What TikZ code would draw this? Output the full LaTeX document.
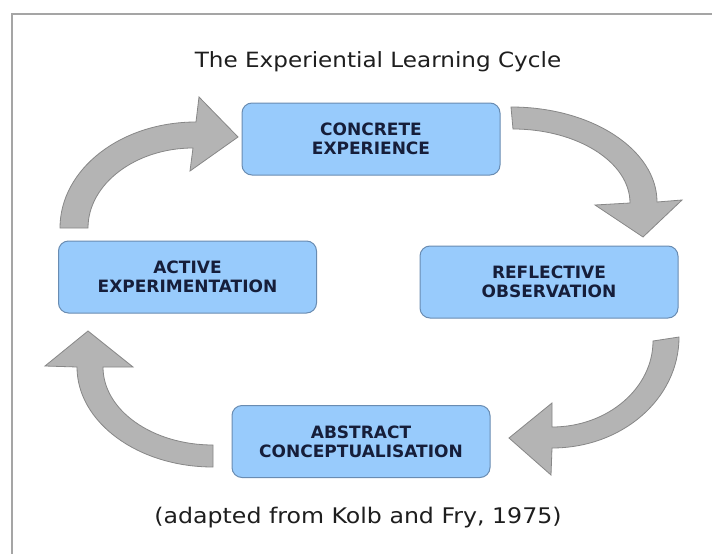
\documentclass[tikz,border=0pt]{standalone}
\usepackage{fontspec}
\setmainfont{DejaVu Sans}
\newfontfamily\wideheading[FakeStretch=1.1]{DejaVu Sans}
\definecolor{boxfill}{RGB}{152,203,252}
\definecolor{boxline}{RGB}{105,140,178}
\definecolor{boxtext}{RGB}{22,30,58}
\definecolor{arrowfill}{RGB}{180,180,180}
\definecolor{arrowline}{RGB}{135,135,135}
\definecolor{framegray}{RGB}{165,165,165}
\definecolor{titletext}{RGB}{30,30,30}
\begin{document}
\begin{tikzpicture}[x=1pt,y=-1pt,
  stagebox/.style={draw=boxline, line width=1pt, fill=boxfill, rounded corners=10pt,
    minimum width=258pt, minimum height=72pt, align=center, text=boxtext,
    font=\fontsize{17}{19}\selectfont\bfseries},
  bigarrow/.style={fill=arrowfill, draw=arrowline, line width=0.8pt, line join=miter},
  heading/.style={text=titletext, font=\wideheading\fontsize{21}{25}\selectfont}]
\useasboundingbox (0,0) rectangle (712,554);
\fill[white] (0,0) rectangle (712,554);
% frame
\draw[framegray, line width=1.6pt] (712,14) -- (12,14) -- (12,554);
% title and caption
\node[heading] (title) at (378,62) {The Experiential Learning Cycle};
\node[heading, font=\wideheading\fontsize{21.5}{25}\selectfont] (caption) at (358,518) {(adapted from Kolb and Fry, 1975)};
% stages
\node[stagebox] (ce) at (371,139) {CONCRETE\\EXPERIENCE};
\node[stagebox] (ro) at (549,282) {REFLECTIVE\\OBSERVATION};
\node[stagebox] (ac) at (361,441.5) {ABSTRACT\\CONCEPTUALISATION};
\node[stagebox] (ae) at (187.5,277) {ACTIVE\\EXPERIMENTATION};
% arrow AE -> CE (top left)
\draw[bigarrow] (60,228) .. controls (60,169.5) and (120.4,122) .. (196,122)
  -- (199,97) -- (238,137) -- (190,171) -- (193,148)
  .. controls (135.9,148) and (88,183.8) .. (88,228) -- cycle;
% arrow CE -> RO (top right)
\draw[bigarrow] (511,107) .. controls (592.1,107) and (657,150) .. (657,202)
  -- (682,200) -- (643,237) -- (595,205) -- (630,203)
  .. controls (630,162.1) and (577.2,129) .. (513,129) -- cycle;
% arrow RO -> AC (bottom right)
\draw[bigarrow] (679,337) .. controls (679,398.8) and (622.1,448) .. (552,448)
  -- (551,475) -- (509,438) -- (552,403) -- (552,427)
  .. controls (607.8,427) and (653,388) .. (653,341) -- cycle;
% arrow AC -> AE (bottom left)
\draw[bigarrow] (213,467) .. controls (137.9,467) and (77,422.2) .. (77,367)
  -- (45,366) -- (88,331) -- (133,367) -- (103,367)
  .. controls (103,410.1) and (152.2,445) .. (213,445) -- cycle;
\end{tikzpicture}
\end{document}
